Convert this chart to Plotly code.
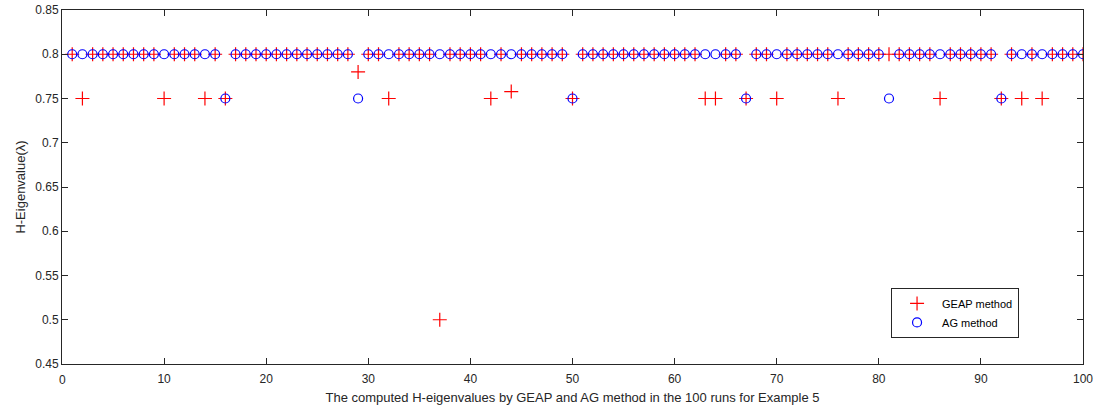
import plotly.graph_objects as go

runs = list(range(1, 101))

geap = [
    0.8, 0.75, 0.8, 0.8, 0.8, 0.8, 0.8, 0.8, 0.8, 0.75,
    0.8, 0.8, 0.8, 0.75, 0.8, 0.75, 0.8, 0.8, 0.8, 0.8,
    0.8, 0.8, 0.8, 0.8, 0.8, 0.8, 0.8, 0.8, 0.78, 0.8,
    0.8, 0.75, 0.8, 0.8, 0.8, 0.8, 0.5, 0.8, 0.8, 0.8,
    0.8, 0.75, 0.8, 0.7578, 0.8, 0.8, 0.8, 0.8, 0.8, 0.75,
    0.8, 0.8, 0.8, 0.8, 0.8, 0.8, 0.8, 0.8, 0.8, 0.8,
    0.8, 0.8, 0.75, 0.75, 0.8, 0.8, 0.75, 0.8, 0.8, 0.75,
    0.8, 0.8, 0.8, 0.8, 0.8, 0.75, 0.8, 0.8, 0.8, 0.8,
    0.8, 0.8, 0.8, 0.8, 0.8, 0.75, 0.8, 0.8, 0.8, 0.8,
    0.8, 0.75, 0.8, 0.75, 0.8, 0.75, 0.8, 0.8, 0.8, 0.8,
]

ag = [
    0.8, 0.8, 0.8, 0.8, 0.8, 0.8, 0.8, 0.8, 0.8, 0.8,
    0.8, 0.8, 0.8, 0.8, 0.8, 0.75, 0.8, 0.8, 0.8, 0.8,
    0.8, 0.8, 0.8, 0.8, 0.8, 0.8, 0.8, 0.8, 0.75, 0.8,
    0.8, 0.8, 0.8, 0.8, 0.8, 0.8, 0.8, 0.8, 0.8, 0.8,
    0.8, 0.8, 0.8, 0.8, 0.8, 0.8, 0.8, 0.8, 0.8, 0.75,
    0.8, 0.8, 0.8, 0.8, 0.8, 0.8, 0.8, 0.8, 0.8, 0.8,
    0.8, 0.8, 0.8, 0.8, 0.8, 0.8, 0.75, 0.8, 0.8, 0.8,
    0.8, 0.8, 0.8, 0.8, 0.8, 0.8, 0.8, 0.8, 0.8, 0.8,
    0.75, 0.8, 0.8, 0.8, 0.8, 0.8, 0.8, 0.8, 0.8, 0.8,
    0.8, 0.75, 0.8, 0.8, 0.8, 0.8, 0.8, 0.8, 0.8, 0.8,
]

x_ticks = [0, 10, 20, 30, 40, 50, 60, 70, 80, 90, 100]
x_tick_labels = ["0", "10", "20", "30", "40", "50", "60", "70", "80", "90", "100"]
y_ticks = [0.45, 0.5, 0.55, 0.6, 0.65, 0.7, 0.75, 0.8, 0.85]
y_tick_labels = ["0.45", "0.5", "0.55", "0.6", "0.65", "0.7", "0.75", "0.8", "0.85"]

axis_color = "#262626"
font_family = "Liberation Sans, Arial, sans-serif"

fig = go.Figure()
fig.add_trace(go.Scatter(
    x=runs, y=geap, mode="markers", name="GEAP method",
    marker=dict(symbol="cross-thin-open", size=10, color="#ff0000",
                line=dict(color="#ff0000", width=1.2)),
))
fig.add_trace(go.Scatter(
    x=runs, y=ag, mode="markers", name="AG method",
    marker=dict(symbol="circle-open", size=9, color="#0000ff",
                line=dict(color="#0000ff", width=1.2)),
))

fig.update_layout(
    width=1096, height=413,
    margin=dict(l=62, r=13, t=10, b=49, autoexpand=False),
    paper_bgcolor="white", plot_bgcolor="white",
    font=dict(family=font_family, size=12, color=axis_color),
    showlegend=True,
    legend=dict(
        x=0.812, y=0.215, xanchor="left", yanchor="top",
        bgcolor="white", bordercolor=axis_color, borderwidth=1,
        font=dict(size=11, color="#000000"),
        tracegroupgap=0, itemwidth=40,
    ),
)

# the corner label "0" is hidden by plotly with fixed margins, so it is placed as text
ticktext_x = [""] + x_tick_labels[1:]
fig.add_annotation(
    x=x_ticks[0], y=0, xref="x", yref="paper", text=x_tick_labels[0],
    showarrow=False, xanchor="center", yanchor="top", yshift=-7,
    font=dict(size=12, color=axis_color, family=font_family),
)

fig.update_xaxes(
    range=[0, 100], tickvals=x_ticks, ticktext=ticktext_x,
    showgrid=False, zeroline=False,
    ticklabeloverflow="allow", ticklabelstandoff=4,
    showline=True, linecolor=axis_color, linewidth=1, mirror="ticks",
    ticks="inside", ticklen=6, tickcolor=axis_color,
    tickfont=dict(size=12, color=axis_color),
    title=dict(text="The computed H-eigenvalues by GEAP and AG method in the 100 runs for Example 5",
               font=dict(size=13, color=axis_color), standoff=7),
)
fig.update_yaxes(
    range=[0.45, 0.85], tickvals=y_ticks, ticktext=y_tick_labels,
    showgrid=False, zeroline=False,
    ticklabeloverflow="allow",
    showline=True, linecolor=axis_color, linewidth=1, mirror="ticks",
    ticks="inside", ticklen=6, tickcolor=axis_color,
    tickfont=dict(size=12, color=axis_color),
    title=dict(text="H-Eigenvalue(λ)", font=dict(size=13, color=axis_color), standoff=6),
)

fig.write_html("out.html", config={"displayModeBar": False},
               post_script="document.body.style.margin='0';")
